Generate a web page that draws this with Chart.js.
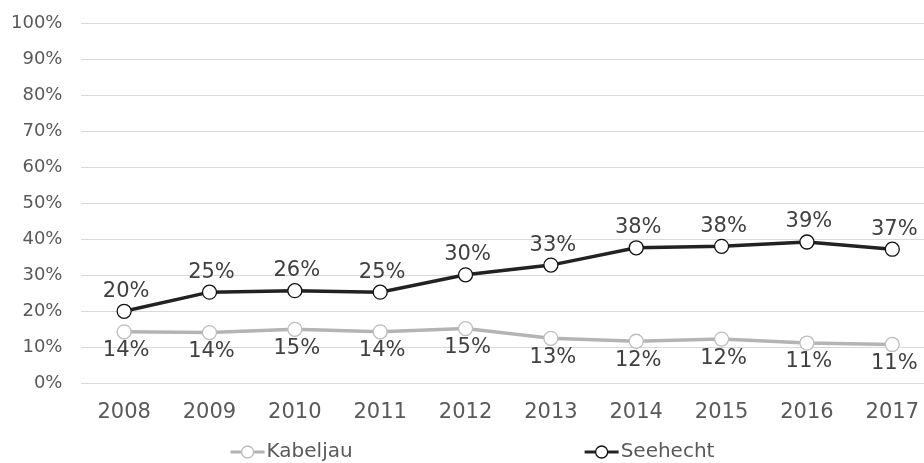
<!DOCTYPE html>
<html>
<head>
<meta charset="utf-8">
<script src="https://cdn.jsdelivr.net/npm/chart.js@4.4.1/dist/chart.umd.min.js"></script>
<style>
  html, body { margin: 0; padding: 0; background: #fff; overflow: hidden; }
  #wrap { position: relative; width: 935px; height: 463px; }
</style>
</head>
<body>
<div id="wrap"><canvas id="chart"></canvas></div>
<script>
// ── Data ─────────────────────────────────────────────────────
const years    = ['2008', '2009', '2010', '2011', '2012', '2013', '2014', '2015', '2016', '2017'];
const kabeljau = [14.4, 14.2, 15.1, 14.4, 15.3, 12.6, 11.8, 12.4, 11.3, 10.9];
const seehecht = [20.1, 25.4, 25.8, 25.4, 30.2, 32.9, 37.7, 38.1, 39.3, 37.3];
const yMax  = 100;
const yStep = 10;

const FONT = '"DejaVu Sans", sans-serif';

// value labels above / below each point
const valueLabels = {
  id: 'valueLabels',
  afterDatasetsDraw(chart) {
    const ctx = chart.ctx;
    ctx.save();
    ctx.font = '21px ' + FONT;
    ctx.fillStyle = '#404040';
    ctx.textAlign = 'center';
    ctx.textBaseline = 'middle';
    chart.data.datasets.forEach((ds, i) => {
      chart.getDatasetMeta(i).data.forEach((pt, j) => {
        ctx.fillText(Math.round(ds.data[j]) + '%', pt.x + 2, pt.y + ds.labelOffset);
      });
    });
    ctx.restore();
  }
};

// legend: line + circle marker, items spread wide apart
const spreadLegend = {
  id: 'spreadLegend',
  afterDraw(chart) {
    const ctx = chart.ctx;
    const gap = 232, mark = 34, y = 452;
    ctx.save();
    ctx.font = '20px ' + FONT;
    const items = chart.data.datasets.map(ds => ({ ds, w: mark + 2 + ctx.measureText(ds.label).width }));
    const total = items.reduce((s, it) => s + it.w, 0) + gap * (items.length - 1);
    let x = chart.width / 2 - total / 2 + 5;
    items.forEach(({ ds, w }) => {
      ctx.strokeStyle = ds.borderColor;
      ctx.lineWidth = 3;
      ctx.beginPath(); ctx.moveTo(x, y); ctx.lineTo(x + mark, y); ctx.stroke();
      ctx.beginPath(); ctx.arc(x + mark / 2, y, 6, 0, Math.PI * 2);
      ctx.fillStyle = '#fff'; ctx.fill();
      ctx.lineWidth = 1.3; ctx.strokeStyle = ds.pointBorderColor; ctx.stroke();
      ctx.fillStyle = '#595959';
      ctx.textAlign = 'left';
      ctx.textBaseline = 'middle';
      ctx.fillText(ds.label, x + mark + 2, y);
      x += w + gap;
    });
    ctx.restore();
  }
};

new Chart(document.getElementById('chart'), {
  type: 'line',
  data: {
    labels: years,
    datasets: [
      {
        label: 'Kabeljau', data: kabeljau, labelOffset: 19,
        borderColor: '#b4b4b4', borderWidth: 3.5,
        pointRadius: 7, pointBorderWidth: 1.3,
        pointBackgroundColor: '#fff', pointBorderColor: '#bdbdbd'
      },
      {
        label: 'Seehecht', data: seehecht, labelOffset: -20,
        borderColor: '#222', borderWidth: 3.5,
        pointRadius: 7, pointBorderWidth: 1.3,
        pointBackgroundColor: '#fff', pointBorderColor: '#111'
      }
    ]
  },
  options: {
    responsive: true, maintainAspectRatio: false,
    animation: false,
    layout: { autoPadding: false, padding: { left: 11, top: 23, right: 0, bottom: 38 } },
    plugins: { legend: { display: false }, tooltip: { enabled: false } },
    scales: {
      x: {
        offset: true,
        grid: { display: false, drawTicks: false },
        border: { display: false },
        ticks: { padding: 16, color: '#595959', font: { family: FONT, size: 21 } },
        // tick padding is counted twice in the axis size; keep it once
        afterFit: s => { s.height -= 16; }
      },
      y: {
        min: 0, max: yMax,
        grid: { color: '#d9d9d9', lineWidth: 1, drawTicks: false },
        border: { display: false },
        ticks: { stepSize: yStep, padding: 19, color: '#595959', font: { family: FONT, size: 18 }, callback: v => v + '%' },
        afterFit: s => { s.width -= 19; s.paddingTop = 11; s.paddingBottom = 11; }
      }
    }
  },
  plugins: [valueLabels, spreadLegend]
});
</script>
</body>
</html>
